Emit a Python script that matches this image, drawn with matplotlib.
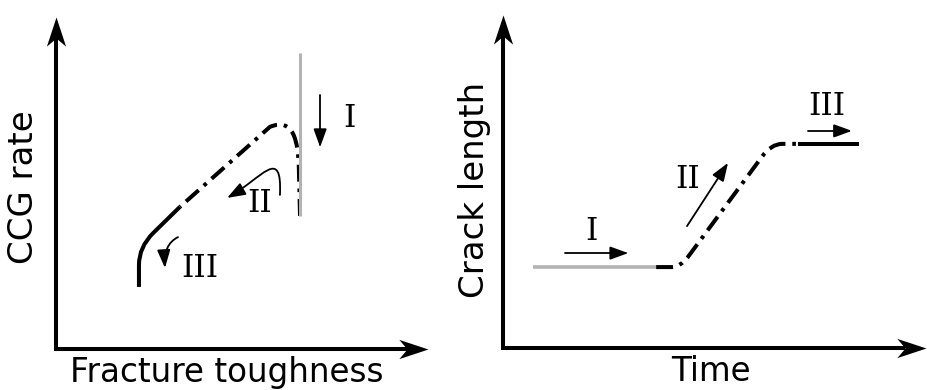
import matplotlib
matplotlib.use("Agg")
import matplotlib.pyplot as plt
import numpy as np
from matplotlib.path import Path
from matplotlib.patches import PathPatch, FancyArrowPatch

# ---------------- data (axes units 0..100) ----------------
# Left panel: CCG rate vs fracture toughness
L_gray_x = [65.6, 65.6]
L_gray_y = [89.2, 40.1]
L_dash_pts = [(65.6, 40.1), (65.3, 53.9), (65.1, 63.0), (63.8, 69.8), (57.5, 66.9), (33.3, 42.8)]
L_dash_codes = ["M", "L", "C", "C", "C", "L"]
L_solid_pts = [(33.3, 42.8), (26.1, 34.9), (22.3, 30.7), (22.3, 25.3), (22.3, 18.7)]
L_solid_codes = ["M", "L", "Q", "Q", "L"]
L_arrows = [
    [(71.0, 76.5), (71.0, 60.8)],
    [(60.2, 46.4), (60.8, 61.4), (55.4, 51.5), (46.0, 45.5)],
    [(32.8, 33.7), (30.1, 32.2), (29.0, 29.2), (29.3, 24.4)],
]
L_labels = ["I", "II", "III"]
L_label_xy = [(79.0, 66.9), (54.8, 41.3), (38.7, 21.7)]

# Right panel: crack length vs time
R_gray_x = [7.1, 36.2]
R_gray_y = [24.3, 24.3]
R_dash_pts = [(36.2, 24.3), (40.0, 24.3), (41.8, 24.3), (43.7, 27.3), (61.2, 57.4),
              (63.4, 61.3), (66.0, 61.3), (69.7, 61.3)]
R_dash_codes = ["M", "L", "Q", "Q", "L", "Q", "Q", "L"]
R_solid_x = [69.7, 84.2]
R_solid_y = [61.3, 61.3]
R_arrows = [
    [(14.7, 28.5), (29.6, 28.5)],
    [(43.5, 36.6), (53.2, 55.6)],
    [(72.1, 65.2), (82.5, 65.2)],
]
R_labels = ["I", "II", "III"]
R_label_xy = [(21.0, 32.4), (43.7, 48.0), (76.6, 70.0)]

xlabels = ["Fracture toughness", "Time"]
ylabels = ["CCG rate", "Crack length"]
xlabel_pos = [(46.0, -9.9), (49.2, -9.9)]
ylabel_pos = [(-6.2, 48.6), (-4.5, 47.4)]

# ---------------- drawing ----------------
W, H = 927, 390
fig = plt.figure(figsize=(W / 100, H / 100), dpi=100)

GRAY = "#b3b3b3"
LW = 2.9
DASHDOT = (0, (4.2, 1.7, 0.9, 1.7))
CODEMAP = {"M": Path.MOVETO, "L": Path.LINETO, "Q": Path.CURVE3, "C": Path.CURVE4}

# stealth arrowhead markers (tip at origin)
up_head = np.array([(0, 0), (-0.33, -1), (0, -0.72), (0.33, -1), (0, 0)])
right_head = np.array([(0, 0), (-1, 0.33), (-0.72, 0), (-1, -0.33), (0, 0)])


def make_ax(rect):
    ax = fig.add_axes(rect)
    ax.set_xlim(0, 100)
    ax.set_ylim(0, 100)
    ax.axis("off")
    ax.plot([0, 0, 95], [95, 0, 0], color="black", lw=LW, solid_joinstyle="miter",
            solid_capstyle="butt", clip_on=False)
    ax.plot([0], [100], marker=up_head, ms=42, color="black", mew=0, clip_on=False)
    ax.plot([100], [0], marker=right_head, ms=42, color="black", mew=0, clip_on=False)
    return ax


def path_from(pts, codes):
    return Path(np.array(pts, float), [CODEMAP[c] for c in codes])


def draw_arrow(ax, pts):
    if len(pts) == 2:
        path = Path(np.array(pts, float), [Path.MOVETO, Path.LINETO])
    else:
        path = Path(np.array(pts, float), [Path.MOVETO, Path.CURVE4, Path.CURVE4, Path.CURVE4])
    arr = FancyArrowPatch(path=path, arrowstyle="-|>,head_length=1.1,head_width=0.4",
                          mutation_scale=10, lw=1.3, color="black",
                          shrinkA=0, shrinkB=0, transform=ax.transData, clip_on=False)
    ax.add_patch(arr)


def roman(ax, labels, xy):
    for s, (x, y) in zip(labels, xy):
        ax.text(x, y, s, family="DejaVu Serif", fontsize=22.5, ha="center", va="baseline")


# left panel
axL = make_ax([56 / W, (H - 349) / H, 372 / W, 332 / H])
axL.plot(L_gray_x, L_gray_y, color=GRAY, lw=2.2, solid_capstyle="butt", clip_on=False)
axL.add_patch(PathPatch(path_from(L_dash_pts, L_dash_codes), fill=False, lw=LW,
                        ls=DASHDOT, capstyle="butt", color="black"))
axL.add_patch(PathPatch(path_from(L_solid_pts, L_solid_codes), fill=False, lw=LW,
                        capstyle="butt", color="black"))
for a in L_arrows:
    draw_arrow(axL, a)
roman(axL, L_labels, L_label_xy)

# right panel
axR = make_ax([503 / W, (H - 348) / H, 423 / W, 333 / H])
axR.plot(R_gray_x, R_gray_y, color=GRAY, lw=2.6, solid_capstyle="butt", clip_on=False)
axR.add_patch(PathPatch(path_from(R_dash_pts, R_dash_codes), fill=False, lw=LW,
                        ls=DASHDOT, capstyle="butt", color="black"))
axR.plot(R_solid_x, R_solid_y, color="black", lw=LW, solid_capstyle="butt")
for a in R_arrows:
    draw_arrow(axR, a)
roman(axR, R_labels, R_label_xy)

for ax, xl, yl, xp, yp in zip([axL, axR], xlabels, ylabels, xlabel_pos, ylabel_pos):
    ax.text(xp[0], xp[1], xl, fontsize=23.5, ha="center", va="baseline",
            family="DejaVu Sans", clip_on=False)
    ax.text(yp[0], yp[1], yl, fontsize=24.5, ha="center", va="baseline", rotation=90,
            rotation_mode="anchor", family="DejaVu Sans", clip_on=False)

fig.savefig("out.png", dpi=100)
